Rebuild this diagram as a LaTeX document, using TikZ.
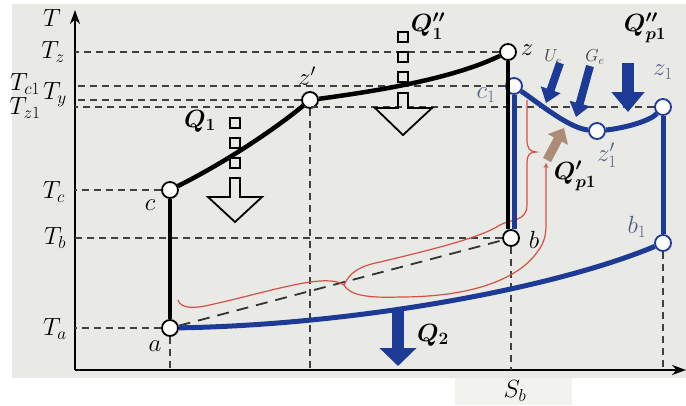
\documentclass[tikz,border=0pt]{standalone}
\usepackage{amsmath}
\usetikzlibrary{arrows.meta}
\definecolor{cblue}{RGB}{28,58,150}
\definecolor{cred}{RGB}{215,80,70}
\definecolor{bg}{RGB}{233,233,229}
\definecolor{qarr}{RGB}{172,140,118}
\colorlet{lbl}{cblue!45!gray}
\begin{document}
\begin{tikzpicture}[x=1pt,y=-1pt,>=stealth,every node/.style={font=\fontsize{25}{29}\selectfont},
 pnt/.style={circle,draw,fill=white!85!bg,line width=1.8pt,minimum size=16pt,inner sep=0pt},
 bpnt/.style={pnt,draw=cblue},
 lvl/.style={line width=2pt,dash pattern=on 7pt off 5pt,black!75},
 blk/.style={line width=4.5pt},
 blu/.style={line width=5pt,cblue},
 sq/.style={line width=1.8pt},
 heat/.style={cblue,line width=#1},
 flow/.style={cred,line width=1.2pt},
 qlab/.style={font=\fontsize{27}{31}\selectfont\boldmath}]
\useasboundingbox (0,0) rectangle (686,405);
\fill[bg] (12,4) rectangle (686,378); \fill[bg!60] (455,378) rectangle (572,405);
\coordinate (o) at (75,370);
% points of the cycle
\node[pnt] (a) at (170,328){}; \node[pnt] (c) at (170,190){}; \node[pnt] (zp) at (310,100){};
\node[pnt] (z) at (508,52){}; \node[pnt] (b) at (511,238){};
\node[bpnt] (ca) at (514,86){}; \node[bpnt] (zpa) at (597,131){}; \node[bpnt] (za) at (663,107){}; \node[bpnt] (ba) at (663,243){};
% axes
\draw[line width=2.2pt,-{Stealth[length=14pt,width=10pt]}] (o) -- (75,10);
\draw[line width=2.2pt,-{Stealth[length=14pt,width=10pt]}] (o) -- (686,370);
\node (lt) at (52,18) {$T$}; \node (lsb) at (515,391) {$S_b$};
% levels
\draw[lvl] (z) -- (z-|o); \draw[lvl] (ca) -- (ca-|o); \draw[lvl] (zp) -- (zp-|o); \draw[lvl] (za) -- (za-|o);
\draw[lvl] (c) -- (c-|o); \draw[lvl] (b) -- (b-|o); \draw[lvl] (a) -- (a-|o);
\draw[lvl] (a) -- (a|-o); \draw[lvl] (zp) -- (zp|-o); \draw[lvl] (b) -- (b|-o); \draw[lvl] (ba) -- (ba|-o);
\node (ltz) at (53,52) {$T_z$}; \node (ltca) at (25,84) {$T_{c1}$}; \node (lty) at (55,95) {$T_y$}; \node (ltza) at (25,108) {$T_{z1}$};
\node (ltc) at (54,192) {$T_c$}; \node (ltb) at (55,238) {$T_b$}; \node (lta) at (55,329) {$T_a$};
\draw[line width=1.8pt,black!80,dash pattern=on 12pt off 8pt] (a) -- (b);
% heat flows
\draw[flow] (178,300) .. controls (180,307) and (190,309) .. (205,306) .. controls (270,292) and (325,272) .. (344,285)
 .. controls (350,272) and (360,266) .. (380,262) .. controls (430,250) and (480,238) .. (500,225)
 .. controls (510,219) and (527,222) .. (527,205) -- (527,162) .. controls (527,155) and (530,152) .. (536,152)
 .. controls (530,152) and (527,148) .. (527,140) -- (527,100);
\draw[flow,->] (344,285) .. controls (350,296) and (370,298) .. (400,297) .. controls (470,297) and (515,280) .. (535,255)
 .. controls (543,245) and (546,238) .. (546,225) -- (546,163);
\draw[qarr,line width=9pt,-{Triangle[length=13pt,width=22pt]}] (547,160) -- (564,128);
% cycle lines
\draw[blk] (a) -- (c); \draw[blk] (c) .. controls (230,160) and (280,125) .. (zp);
\draw[blk] (zp) .. controls (400,88) and (460,75) .. (z); \draw[blk] (z) -- (z|-b.north);
\draw[blu] (ca) -- (ca|-b.north); \draw[blu] (ca) .. controls (545,108) and (570,128) .. (zpa);
\draw[blu] (zpa) .. controls (625,128) and (650,121) .. (za); \draw[blu] (za) -- (ba);
\draw[blu] (a) .. controls (350,325) and (550,290) .. (ba);
% hollow arrows
\foreach \y in {118,138,158} \draw[sq] (230,\y) rectangle ++(10,10);
\draw[sq] (230,178) -- (240,178) -- (240,197) -- (262,197) -- (235,222) -- (208,197) -- (230,197) -- cycle;
\foreach \y in {32,52,72} \draw[sq] (398,\y) rectangle ++(10,10);
\draw[sq] (398,93) -- (408,93) -- (408,108) -- (432,108) -- (403,135) -- (375,108) -- (398,108) -- cycle;
% solid arrows
\draw[heat=12pt,-{Triangle[length=18pt,width=36pt]}] (398,311) -- (398,366);
\draw[heat=12pt,-{Triangle[length=20pt,width=32pt]}] (628,63) -- (628,112);
\draw[heat=8pt,-{Triangle[length=14pt,width=20pt]}] (560,63) -- (546,103);
\draw[heat=8pt,-{Triangle[length=14pt,width=20pt]}] (590,66) -- (576,117);
% labels
\node (la) at (155,346) {$a$}; \node (lc) at (150,205) {$c$}; \node (lzp) at (307,76) {$z'$}; \node (lz) at (527,50) {$z$};
\node (lb) at (534,240) {$b$}; \node[lbl] (lca) at (486,95) {$c_1$}; \node[lbl] (lzpa) at (607,155) {$z'_1$};
\node[lbl] (lza) at (663,72) {$z_1$}; \node[lbl] (lba) at (637,227) {$b_1$};
\node[black!75,font=\fontsize{17}{19}\selectfont] (lue) at (553,57) {$U_e$}; \node[black!75,font=\fontsize{17}{19}\selectfont] (lge) at (595,57) {$G_e$};
\node[qlab] (lq1) at (200,121) {$Q_1$}; \node[qlab] (lq1b) at (428,26) {$Q''_1$}; \node[qlab] (lqp) at (645,28) {$Q''_{p1}$};
\node[qlab] (lqpa) at (575,176) {$Q'_{p1}$}; \node[qlab] (lq2) at (433,335) {$Q_2$};
\end{tikzpicture}
\end{document}
